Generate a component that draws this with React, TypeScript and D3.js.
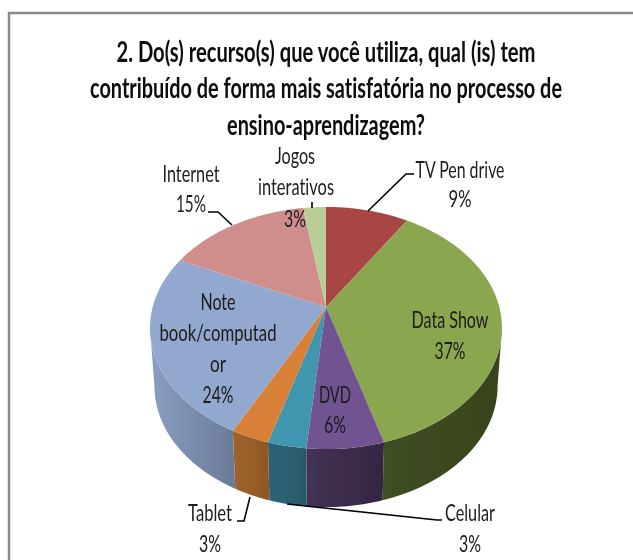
import React from "react";
import * as d3 from "d3";

const titleLines = ["2. Do(s) recurso(s) que você utiliza, qual (is) tem", "contribuído de forma mais satisfatória no processo de", "ensino-aprendizagem?"];
const categories = ["TV Pen drive", "Data Show", "DVD", "Celular", "Tablet", "Note book/computador", "Internet", "Jogos interativos"];
const labelValues = [9, 37, 6, 3, 3, 24, 15, 3];
// Unrounded shares as read from the slice boundaries
const sliceValues = [9, 36.5, 6, 3, 3, 24.5, 15.5, 2.5];
const topColors = ["#A84544", "#8AA64F", "#6F5290", "#3F96AE", "#D98039", "#92A8CF", "#CF8E8C", "#B9CD96"];
const sideLight = ["#6E2D2C", "#3F4F22", "#443255", "#2C6577", "#A1632B", "#8A9FC3", "#8A5F5E", "#7C8A64"];
const sideDark = ["#6E2D2C", "#38431D", "#342642", "#285A69", "#8F5825", "#6C7B98", "#8A5F5E", "#7C8A64"];

const cx = 326, apexY = 307, depth = 58, bottomScale = 0.975;
const persp = 0.1736, halfW = 173.3, halfH = 117.4;
const font = "Lato, 'Open Sans', sans-serif";

type T = { t: string; x: number; y: number; w: number };
const labelTexts: T[] = [
  { t: categories[0], x: 460, y: 178, w: 89 }, { t: labelValues[0] + "%", x: 460, y: 207, w: 23 },
  { t: "Internet", x: 191, y: 182, w: 57 }, { t: labelValues[6] + "%", x: 191, y: 212, w: 30 },
  { t: "Jogos", x: 295, y: 164, w: 40 }, { t: "interativos", x: 296, y: 195, w: 76 }, { t: labelValues[7] + "%", x: 295, y: 227, w: 22 },
  { t: categories[1], x: 450, y: 328, w: 77 }, { t: labelValues[1] + "%", x: 450, y: 359, w: 31 },
  { t: "Note", x: 218, y: 310, w: 35 }, { t: "book/computad", x: 218, y: 341, w: 117 }, { t: "or", x: 218, y: 372, w: 16 }, { t: labelValues[5] + "%", x: 218, y: 403, w: 31 },
  { t: categories[2], x: 335, y: 402.5, w: 32 }, { t: labelValues[2] + "%", x: 335, y: 432.5, w: 22 },
  { t: categories[4], x: 210, y: 521, w: 44 }, { t: labelValues[4] + "%", x: 210, y: 552, w: 22 },
  { t: categories[3], x: 470, y: 521, w: 50 }, { t: labelValues[3] + "%", x: 470, y: 552, w: 22 },
];
const titleY = [62, 98, 135];
const titleW = [419, 472, 198];
const leaders = [
  "M368,211L406,174L414,174",
  "M208,212L218,212L232,225",
  "M312,202L312,208",
  "M237,521L244,521L250,497",
  "M287,504L437,520L442,520",
];

// Tilted circle: angle on the pie to a point on the drawn rim
const rim = (a: number): [number, number] => {
  const w = 1 + persp * Math.cos(a);
  return [cx + (halfW * Math.sin(a)) / w, apexY - (halfH * Math.cos(a)) / w];
};
const samples = (a0: number, a1: number) => {
  const n = Math.max(2, Math.ceil((a1 - a0) / 0.02));
  return d3.range(n + 1).map((k) => a0 + ((a1 - a0) * k) / n);
};

export default function App() {
  const arcs = d3.pie<number>().sort(null).value((d) => d)(sliceValues);
  const line = d3.line<[number, number]>();
  const lim0 = Math.acos(-persp);
  const lim1 = 2 * Math.PI - lim0;
  const sides = arcs.map((d, i) => {
    const a0 = Math.max(d.startAngle, lim0);
    const a1 = Math.min(d.endAngle, lim1);
    if (a1 <= a0) return null;
    const upper = samples(a0, a1).map(rim);
    const lower = upper.slice().reverse().map(([x, y]) => [cx + (x - cx) * bottomScale, y + depth] as [number, number]);
    return { i, path: line([...upper, ...lower]) + "Z", x0: upper[upper.length - 1][0], x1: upper[0][0] };
  });
  return (
    <svg width={633} height={560} style={{ position: "fixed", left: 0, top: 0, background: "#fff", fontVariantLigatures: "none" }}>
      <defs>
        <filter id="soft" x="0" y="0" width="633" height="560" filterUnits="userSpaceOnUse">
          <feGaussianBlur stdDeviation="0.45" />
        </filter>
        {sides.map((s) => s && (
          <linearGradient key={s.i} id={`side${s.i}`} gradientUnits="userSpaceOnUse" x1={s.x0} x2={s.x1} y1={0} y2={0}>
            <stop offset="0" stopColor={sideLight[s.i]} />
            <stop offset="1" stopColor={sideDark[s.i]} />
          </linearGradient>
        ))}
      </defs>
      <g filter="url(#soft)">
        <path d="M9,560V13H633" fill="none" stroke="#8a8a8a" strokeWidth={2.4} />
        {sides.map((s) => s && <path key={s.i} d={s.path} fill={`url(#side${s.i})`} />)}
        {arcs.map((d, i) => (
          <path key={i} d={line([[cx, apexY], ...samples(d.startAngle, d.endAngle).map(rim)]) + "Z"} fill={topColors[i]} />
        ))}
        {leaders.map((d, i) => <path key={i} d={d} fill="none" stroke="#000" strokeWidth={1.6} />)}
        {titleLines.map((t, i) => (
          <text key={i} transform={`translate(326,${titleY[i]}) scale(1,1.32)`} textAnchor="middle" fontFamily={font} fontWeight={700} fontSize={21} fill="#0c0c0c"
            textLength={titleW[i]} lengthAdjust="spacingAndGlyphs">{t}</text>
        ))}
        {labelTexts.map((l, i) => (
          <text key={i} transform={`translate(${l.x},${l.y}) scale(1,1.35)`} textAnchor="middle" fontFamily={font} fontSize={17} fill="#1c1c1c"
            textLength={l.w} lengthAdjust="spacingAndGlyphs">{l.t}</text>
        ))}
      </g>
    </svg>
  );
}
